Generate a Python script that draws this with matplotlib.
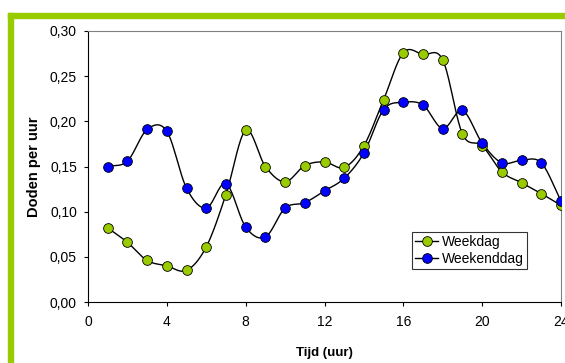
import numpy as np
import matplotlib
matplotlib.use("Agg")
import matplotlib.pyplot as plt
from matplotlib.patches import Rectangle

plt.rcParams['font.family'] = ['Liberation Sans', 'DejaVu Sans']

## data #########
uur = list(range(1, 25))
weekdag = [0.082, 0.066, 0.046, 0.040, 0.035, 0.061, 0.119, 0.190, 0.150, 0.133, 0.151, 0.155,
           0.149, 0.173, 0.224, 0.276, 0.274, 0.268, 0.186, 0.173, 0.144, 0.132, 0.120, 0.107]
weekenddag = [0.150, 0.156, 0.191, 0.189, 0.126, 0.104, 0.131, 0.083, 0.072, 0.104, 0.110, 0.123,
              0.137, 0.165, 0.213, 0.221, 0.218, 0.192, 0.212, 0.176, 0.154, 0.157, 0.154, 0.112]
xticks = [0, 4, 8, 12, 16, 20, 24]
yticks = [0.00, 0.05, 0.10, 0.15, 0.20, 0.25, 0.30]


def smooth(x, y, n=20):
    # catmull-rom, like the excel "smoothed line"
    x = np.asarray(x, float)
    y = np.asarray(y, float)
    px = np.concatenate([[2 * x[0] - x[1]], x, [2 * x[-1] - x[-2]]])
    py = np.concatenate([[2 * y[0] - y[1]], y, [2 * y[-1] - y[-2]]])
    xs, ys = [], []
    t = np.linspace(0, 1, n, endpoint=False)
    for i in range(1, len(px) - 2):
        for p, out in ((px, xs), (py, ys)):
            p0, p1, p2, p3 = p[i - 1], p[i], p[i + 1], p[i + 2]
            out.extend(0.5 * (2 * p1 + (-p0 + p2) * t + (2 * p0 - 5 * p1 + 4 * p2 - p3) * t ** 2
                              + (-p0 + 3 * p1 - 3 * p2 + p3) * t ** 3))
    xs.append(x[-1])
    ys.append(y[-1])
    return xs, ys


fig = plt.figure(figsize=(5.65, 3.63), dpi=100)

## green frame ####
green = '#99cc00'
fig.patches.append(Rectangle((8 / 565, 0), 5 / 565, 1 - 13 / 363, transform=fig.transFigure,
                             color=green, zorder=0))
fig.patches.append(Rectangle((8 / 565, 1 - 18 / 363), 1, 5 / 363, transform=fig.transFigure,
                             color=green, zorder=0))

ax = fig.add_axes([88 / 565, 61 / 363, 473 / 565, 271 / 363])

for vals, col, lab in ((weekdag, green, 'Weekdag'), (weekenddag, '#0000ff', 'Weekenddag')):
    sx, sy = smooth(uur, vals)
    ax.plot(sx, sy, color='black', lw=1, zorder=2)
    ax.plot(uur, vals, 'o', color=col, markersize=7, markeredgecolor='black',
            markeredgewidth=0.6, zorder=3)
    ax.plot([], [], '-o', color='black', markerfacecolor=col, markersize=7,
            markeredgecolor='black', markeredgewidth=0.6, lw=1, label=lab)

ax.set_xlim(0, 24)
ax.set_ylim(0, 0.30)
ax.set_xticks(xticks)
ax.set_yticks(yticks)
ax.set_yticklabels([f"{v:.2f}".replace('.', ',') for v in yticks])
ax.tick_params(labelsize=10, length=3, width=0.8, direction='out', color='black')
ax.tick_params(axis='x', pad=6)
ax.tick_params(axis='y', pad=5)
ax.spines['top'].set_color('#808080')
ax.spines['right'].set_color('#808080')
ax.set_xlabel("Tijd (uur)", fontsize=9.5, fontweight='bold', labelpad=13)
ax.set_ylabel("Doden per uur", fontsize=10.5, fontweight='bold', labelpad=6)

leg = ax.legend(loc='upper left', bbox_to_anchor=(0.685, 0.26), fontsize=10, frameon=True,
                fancybox=False, handlelength=1.6, handletextpad=0.3, borderpad=0.25,
                labelspacing=0.2, borderaxespad=0)
leg.get_frame().set_edgecolor('black')
leg.get_frame().set_linewidth(0.8)

fig.savefig("out.png", dpi=100)
